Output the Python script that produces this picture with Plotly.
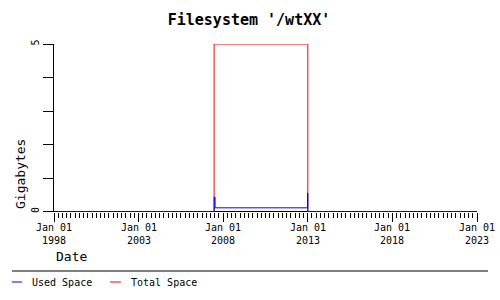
import plotly.graph_objects as go

# ---- data ----
used_dates = ["1998-04-01", "2007-06-20", "2007-07-10", "2012-12-26", "2013-01-02", "2022-09-25"]
used_vals = [0, 0.43, 0.11, 0.55, 0, 0]
total_dates = ["1998-04-01", "2007-06-20", "2013-01-01", "2022-09-25"]
total_vals = [0, 5, 0, 0]
x_tick_dates = ["1998-01-01", "2003-01-01", "2008-01-01", "2013-01-01", "2018-01-01", "2023-01-01"]
x_tick_labels = ["Jan 01<br>1998", "Jan 01<br>2003", "Jan 01<br>2008", "Jan 01<br>2013", "Jan 01<br>2018", "Jan 01<br>2023"]
y_tick_vals = [0, 1, 2, 3, 4, 5]
y_tick_labels = ["0", "", "", "", "", "5"]

W, H = 500, 300
L, R, T, B = 54, 23, 44, 88
PW, PH = W - L - R, H - T - B
FONT = "DejaVu Sans Mono"
Y_MIN = -0.5 / ((211.5 - 44) / 5)  # so that zero sits on pixel row 211


def px(x):
    return (x - L) / PW


def py(y):
    return (H - B - y) / PH


fig = go.Figure()
fig.add_trace(go.Scatter(x=total_dates, y=total_vals, mode="lines", line=dict(color="#ff0000", width=1, shape="hv"),
                         name="Total Space", showlegend=False))
fig.add_trace(go.Scatter(x=used_dates, y=used_vals, mode="lines", line=dict(color="#0000ff", width=1, shape="hv"),
                         name="Used Space", showlegend=False))

fig.update_layout(
    width=W, height=H,
    margin=dict(l=L, r=R, t=T, b=B),
    paper_bgcolor="white", plot_bgcolor="white",
    font=dict(family=FONT, color="black", size=10),
    title=dict(text="<b>Filesystem '/wtXX'</b>", x=249 / W, xanchor="center", xref="container",
               y=1 - 20 / H, yanchor="middle", yref="container", font=dict(family=FONT, size=15, color="black")),
    xaxis=dict(type="date", range=["1998-01-01", "2023-01-01"], showgrid=False, zeroline=False,
               showline=False, automargin=False, showticklabels=False,
               tickmode="array", tickvals=x_tick_dates,
               ticks="outside", ticklen=9, tickcolor="black", tickwidth=1,
               minor=dict(tickmode="linear", tick0="1998-01-01", dtick="M3", ticks="outside", ticklen=5,
                          tickcolor="black", tickwidth=1, showgrid=False)),
    yaxis=dict(range=[Y_MIN, 5], showgrid=False, zeroline=False, showline=True, linecolor="black", linewidth=1,
               automargin=False, layer="below traces", tickmode="array", tickvals=y_tick_vals,
               ticktext=y_tick_labels, ticks="outside", ticklen=10, tickcolor="black", tickwidth=1,
               tickangle=-90, tickfont=dict(family=FONT, size=10, color="black")),
)

ann = [
    dict(text="Date", x=px(54), y=py(256), xanchor="left", yanchor="middle", font=dict(size=13)),
    dict(text="Gigabytes", x=px(20), y=py(174), xanchor="center", yanchor="middle", textangle=-90, font=dict(size=13)),
    dict(text="Used Space", x=px(30), y=py(282), xanchor="left", yanchor="middle", font=dict(size=10)),
    dict(text="Total Space", x=px(129), y=py(282), xanchor="left", yanchor="middle", font=dict(size=10)),
]
for a in ann:
    a.update(xref="paper", yref="paper", showarrow=False)
    a["font"].update(family=FONT, color="black")
for d, lab in zip(x_tick_dates, x_tick_labels):
    ann.append(dict(text=lab, x=d, xref="x", y=py(234), yref="paper", xanchor="center", yanchor="middle",
                    showarrow=False, font=dict(family=FONT, size=10, color="black")))
fig.update_layout(annotations=ann)

zero_paper = (0 - Y_MIN) / (5 - Y_MIN)
shapes = [
    dict(type="line", x0=0, x1=1, y0=zero_paper, y1=zero_paper, layer="below", line=dict(color="black", width=1)),
    dict(type="line", x0=px(12), x1=px(488), y0=py(271), y1=py(271), line=dict(color="black", width=1)),
    dict(type="line", x0=px(12), x1=px(22), y0=py(282), y1=py(282), line=dict(color="#0000ff", width=1)),
    dict(type="line", x0=px(110), x1=px(121), y0=py(282), y1=py(282), line=dict(color="#ff0000", width=1)),
]
for s in shapes:
    s.update(xref="paper", yref="paper")
fig.update_layout(shapes=shapes)

fig.write_html("out.html")
